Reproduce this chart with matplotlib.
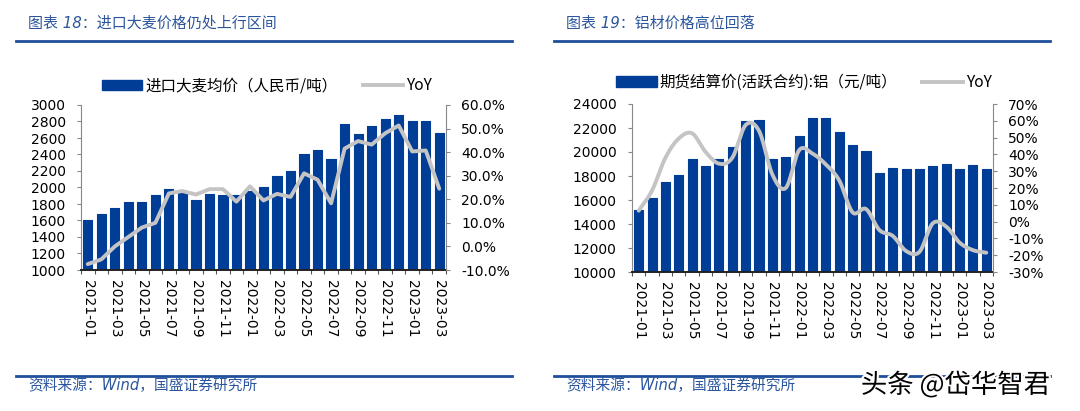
import numpy as np
import matplotlib
matplotlib.use("Agg")
import matplotlib.pyplot as plt
import matplotlib.patheffects as pe
from matplotlib.lines import Line2D
from matplotlib.patches import Patch
from matplotlib.ticker import FuncFormatter, MultipleLocator

plt.rcParams['font.family'] = ['DejaVu Sans', 'Noto Sans CJK SC']

# ---------------- data ----------------
months = ["2021-01", "2021-02", "2021-03", "2021-04", "2021-05", "2021-06", "2021-07",
          "2021-08", "2021-09", "2021-10", "2021-11", "2021-12", "2022-01", "2022-02",
          "2022-03", "2022-04", "2022-05", "2022-06", "2022-07", "2022-08", "2022-09",
          "2022-10", "2022-11", "2022-12", "2023-01", "2023-02", "2023-03"]

barley_price = [1600, 1675, 1755, 1820, 1825, 1910, 1980, 1950, 1845, 1920, 1915, 1915,
                1960, 2005, 2145, 2205, 2400, 2455, 2345, 2765, 2650, 2745, 2835, 2880,
                2810, 2810, 2665]
barley_yoy = [-7.5, -5.5, 0.0, 4.0, 8.0, 10.0, 22.5, 23.5, 22.0, 24.3, 24.3, 19.0,
              25.5, 19.5, 22.3, 21.0, 31.0, 28.3, 18.3, 41.5, 44.7, 43.2, 48.0, 51.3,
              40.3, 40.7, 24.5]

alu_price = [15200, 16200, 17500, 18100, 19400, 18800, 19400, 20400, 22550, 22700, 19400,
             19550, 21300, 22850, 22850, 21700, 20600, 20100, 18250, 18650, 18600, 18600,
             18800, 19000, 18600, 18900, 18600]
alu_yoy = [6.5, 18.5, 38.0, 49.5, 52.5, 41.5, 34.5, 38.0, 57.5, 54.0, 28.0, 20.0, 42.5,
           40.5, 34.0, 24.5, 5.5, 7.5, -5.0, -8.5, -17.5, -18.0, -1.0, -3.0, -12.5, -17.0,
           -18.5]

left_title = "图表 18：进口大麦价格仍处上行区间"
right_title = "图表 19：铝材价格高位回落"
left_bar_label = "进口大麦均价（人民币/吨）"
right_bar_label = "期货结算价(活跃合约):铝（元/吨）"
line_label = "YoY"
source_text = "资料来源：Wind，国盛证券研究所"
watermark = "头条 @岱华智君"

# ---------------- style ----------------
BAR = '#003D96'
LINE = '#C4C4C4'
BLUE_TXT = '#2B559C'
RULE = '#1F4E9A'
TICK_FS = 10

W, H = 1080, 411
fig = plt.figure(figsize=(W / 100, H / 100), dpi=100)


def ax_rect(x0, x1, ytop, ybot):
    return [x0 / W, 1 - ybot / H, (x1 - x0) / W, (ybot - ytop) / H]


def catmull(xs, ys, n=24):
    xs = np.asarray(xs, float)
    ys = np.asarray(ys, float)
    px = np.concatenate([[2 * xs[0] - xs[1]], xs, [2 * xs[-1] - xs[-2]]])
    py = np.concatenate([[2 * ys[0] - ys[1]], ys, [2 * ys[-1] - ys[-2]]])
    ox, oy = [], []
    t = np.linspace(0, 1, n, endpoint=False)
    for i in range(1, len(px) - 2):
        for arr, out in ((px, ox), (py, oy)):
            p0, p1, p2, p3 = arr[i - 1], arr[i], arr[i + 1], arr[i + 2]
            out.extend(0.5 * ((2 * p1) + (-p0 + p2) * t +
                              (2 * p0 - 5 * p1 + 4 * p2 - p3) * t ** 2 +
                              (-p0 + 3 * p1 - 3 * p2 + p3) * t ** 3))
    ox.append(xs[-1])
    oy.append(ys[-1])
    return np.array(ox), np.array(oy)


def draw_panel(rect, prices, yoy, ylim, ystep, y2lim, pct_fmt, smooth):
    ax = fig.add_axes(rect)
    x = np.arange(len(months))
    ax.bar(x, prices, width=0.68, color=BAR, edgecolor=BAR, linewidth=0.8,
           joinstyle='round', zorder=2)
    ax.set_xlim(-0.5, len(months) - 0.5)
    ax.set_ylim(*ylim)
    ax.yaxis.set_major_locator(MultipleLocator(ystep))
    ax.set_xticks(x[::2])
    ax.set_xticklabels(months[::2], rotation=-90, fontsize=TICK_FS)
    ax.set_xticks(np.arange(len(months) + 1) - 0.5, minor=True)
    ax.tick_params(axis='x', which='major', length=0, pad=7)
    ax.tick_params(axis='x', which='minor', length=3, width=0.8, color='#555555',
                   direction='out')
    ax.tick_params(axis='y', labelsize=TICK_FS, length=3, width=0.8, color='#888888',
                   direction='out', pad=8)
    for s in ('top', 'right'):
        ax.spines[s].set_visible(False)
    ax.spines['left'].set_color('#888888')
    ax.spines['left'].set_linewidth(0.8)
    ax.spines['bottom'].set_color('#222222')
    ax.spines['bottom'].set_linewidth(1.4)
    ax.spines['bottom'].set_zorder(5)

    ax2 = ax.twinx()
    if smooth:
        sx, sy = catmull(x, yoy)
    else:
        sx, sy = x, np.asarray(yoy)
    ax2.plot(sx, sy, color=LINE, linewidth=2.8, solid_joinstyle='round',
             solid_capstyle='round', zorder=3)
    ax2.set_ylim(*y2lim)
    ax2.yaxis.set_major_locator(MultipleLocator(10))
    ax2.yaxis.set_major_formatter(FuncFormatter(pct_fmt))
    ax2.tick_params(axis='y', labelsize=TICK_FS, length=3, width=0.8, color='#888888',
                    direction='out', pad=8)
    for s in ('top', 'left', 'bottom'):
        ax2.spines[s].set_visible(False)
    ax2.spines['right'].set_color('#888888')
    ax2.spines['right'].set_linewidth(0.8)
    ax2.set_xlim(-0.5, len(months) - 0.5)
    return ax, ax2


axL, axL2 = draw_panel(ax_rect(81, 446, 105, 270), barley_price, barley_yoy,
                       (1000, 3000), 200, (-10, 60),
                       lambda v, p: f"{v:.1f}%", smooth=False)
axR, axR2 = draw_panel(ax_rect(632, 993, 104, 272), alu_price, alu_yoy,
                       (10000, 24000), 2000, (-30, 70),
                       lambda v, p: f"{v:.0f}%", smooth=True)

# legends
LEG_FONT = {'family': ['Noto Sans CJK SC', 'DejaVu Sans'], 'size': 11.2}
for cx, cy, lab in ((267, 86, left_bar_label), (804, 82.5, right_bar_label)):
    handles = [Patch(facecolor=BAR, edgecolor=BAR),
               Line2D([], [], color=LINE, linewidth=2.8)]
    fig.legend(handles, [lab, line_label], loc='center',
               bbox_to_anchor=(cx / W, 1 - cy / H), ncol=2, frameon=False,
               prop=LEG_FONT, handlelength=2.6, handleheight=0.7,
               handletextpad=0.2, columnspacing=1.6, borderpad=0, borderaxespad=0)

# titles, rules, sources
TXT_FAM = ['DejaVu Sans', 'Noto Sans CJK SC']
for x0, x1, title in ((16, 512, left_title), (554, 1050, right_title)):
    fig.text((x0 + 12) / W, 1 - 23 / H, title, color=BLUE_TXT, fontsize=10.8,
             style='italic', va='center', ha='left', family=TXT_FAM)
    fig.add_artist(Line2D([x0 / W, x1 / W], [1 - 41 / H, 1 - 41 / H],
                          color=RULE, linewidth=2.0))
    fig.add_artist(Line2D([x0 / W, x1 / W], [1 - 375.5 / H, 1 - 375.5 / H],
                          color=RULE, linewidth=2.0))
    fig.text((x0 + 12) / W, 1 - 386 / H, source_text, color=BLUE_TXT, fontsize=10.6,
             style='italic', va='center', ha='left', family=TXT_FAM)

wm = fig.text(1050 / W, 1 - 385 / H, watermark, color='black', fontsize=19,
              ha='right', va='center', family=['Noto Sans CJK SC', 'DejaVu Sans'])
wm.set_path_effects([pe.withStroke(linewidth=3, foreground='white')])

fig.savefig("out.png", dpi=100)
